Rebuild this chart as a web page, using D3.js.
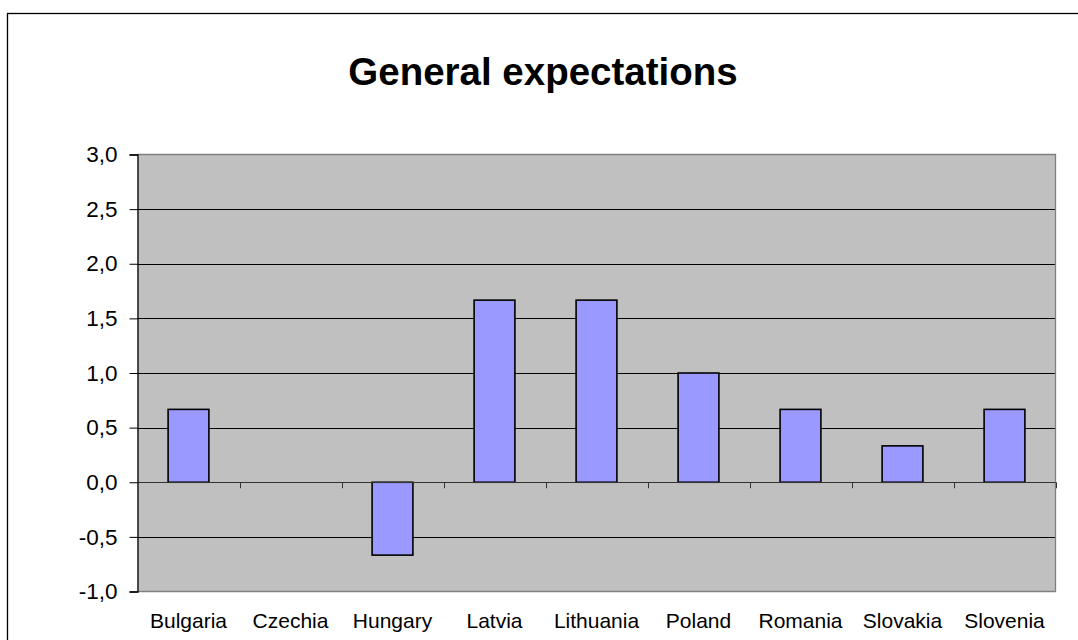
<!DOCTYPE html>
<html>
<head>
<meta charset="utf-8">
<script src="https://cdn.jsdelivr.net/npm/d3@7"></script>
<style>
  html, body { margin: 0; padding: 0; background: #fff; }
  svg { display: block; font-family: Arial, "Liberation Sans", sans-serif; }
</style>
</head>
<body>
<svg id="chart" width="1078" height="640"></svg>
<script>
// Survey balance of general expectations by country
const countries = ["Bulgaria", "Czechia", "Hungary", "Latvia", "Lithuania", "Poland", "Romania", "Slovakia", "Slovenia"];
const values = [0.667, 0, -0.667, 1.667, 1.667, 1.0, 0.667, 0.333, 0.667];
const yTicks = [-1.0, -0.5, 0.0, 0.5, 1.0, 1.5, 2.0, 2.5, 3.0];
const yDomain = [-1.0, 3.0];
const title = "General expectations";

const svg = d3.select("#chart");
const W = 1078, H = 640;
const plot = { left: 137.5, right: 1055.5, top: 154.5, bottom: 591.5 };

// Outer chart frame
svg.append("rect")
  .attr("x", 7.5).attr("y", 13.5)
  .attr("width", W + 10).attr("height", H + 10)
  .attr("fill", "#fff").attr("stroke", "#000").attr("stroke-width", 1.3);

svg.append("text")
  .attr("x", 543).attr("y", 85)
  .attr("text-anchor", "middle")
  .attr("font-size", 38.5).attr("font-weight", "bold")
  .attr("fill", "#000")
  .text(title);

const x = d3.scaleBand()
  .domain(countries)
  .range([plot.left, plot.right])
  .paddingInner(0).paddingOuter(0);

const y = d3.scaleLinear().domain(yDomain).range([plot.bottom, plot.top]);

// Plot area background
svg.append("rect")
  .attr("x", plot.left).attr("y", plot.top)
  .attr("width", plot.right - plot.left).attr("height", plot.bottom - plot.top)
  .attr("fill", "#c0c0c0");

// Horizontal gridlines
svg.append("g")
  .selectAll("line")
  .data(yTicks.filter(t => t !== yDomain[0] && t !== yDomain[1] && t !== 0))
  .join("line")
  .attr("x1", plot.left).attr("x2", plot.right)
  .attr("y1", d => Math.round(y(d)) + 0.5).attr("y2", d => Math.round(y(d)) + 0.5)
  .attr("stroke", "#000").attr("stroke-width", 1);

// Plot area border (top, right, bottom)
svg.append("path")
  .attr("d", `M${plot.left},${plot.top}H${plot.right}V${plot.bottom}H${plot.left}`)
  .attr("fill", "none").attr("stroke", "#808080").attr("stroke-width", 1.3);

// Bars
const barW = x.bandwidth() / 2.5;
svg.append("g")
  .selectAll("rect")
  .data(countries.map((c, i) => ({ c, v: values[i] })).filter(d => d.v !== 0))
  .join("rect")
  .attr("x", d => x(d.c) + (x.bandwidth() - barW) / 2)
  .attr("width", barW)
  .attr("y", d => y(Math.max(0, d.v)))
  .attr("height", d => Math.abs(y(d.v) - y(0)))
  .attr("fill", "#9999ff")
  .attr("stroke", "#000").attr("stroke-width", 1.6);

// Category axis at zero with ticks between categories
const xAxisG = svg.append("g");
xAxisG.append("line")
  .attr("x1", plot.left).attr("x2", plot.right)
  .attr("y1", Math.round(y(0)) + 0.5).attr("y2", Math.round(y(0)) + 0.5)
  .attr("stroke", "#333").attr("stroke-width", 1.2);
xAxisG.selectAll("line.tick")
  .data(countries.slice(1).map(c => x(c)).concat([plot.right]))
  .join("line").attr("class", "tick")
  .attr("x1", d => Math.round(d) + 0.5).attr("x2", d => Math.round(d) + 0.5)
  .attr("y1", y(0)).attr("y2", y(0) + 6)
  .attr("stroke", "#333").attr("stroke-width", 1);

// Category labels along the bottom
svg.append("g")
  .selectAll("text")
  .data(countries)
  .join("text")
  .attr("x", d => x(d) + x.bandwidth() / 2)
  .attr("y", 628)
  .attr("text-anchor", "middle")
  .attr("font-size", 21)
  .attr("fill", "#000")
  .text(d => d);

// Value axis
const yAxis = d3.axisLeft(y)
  .tickValues(yTicks)
  .tickSize(8)
  .tickPadding(12)
  .tickFormat(d => d3.format(".1f")(d).replace(".", ",").replace("−", "-"));
const yAxisG = svg.append("g")
  .attr("transform", `translate(${plot.left},0)`)
  .call(yAxis);
yAxisG.select(".domain").attr("stroke", "#000").attr("stroke-width", 1.3);
yAxisG.selectAll(".tick line").attr("stroke", "#000");
yAxisG.selectAll(".tick text")
  .attr("font-size", 22.5)
  .attr("font-family", "Arial, 'Liberation Sans', sans-serif")
  .attr("fill", "#000");
</script>
</body>
</html>
